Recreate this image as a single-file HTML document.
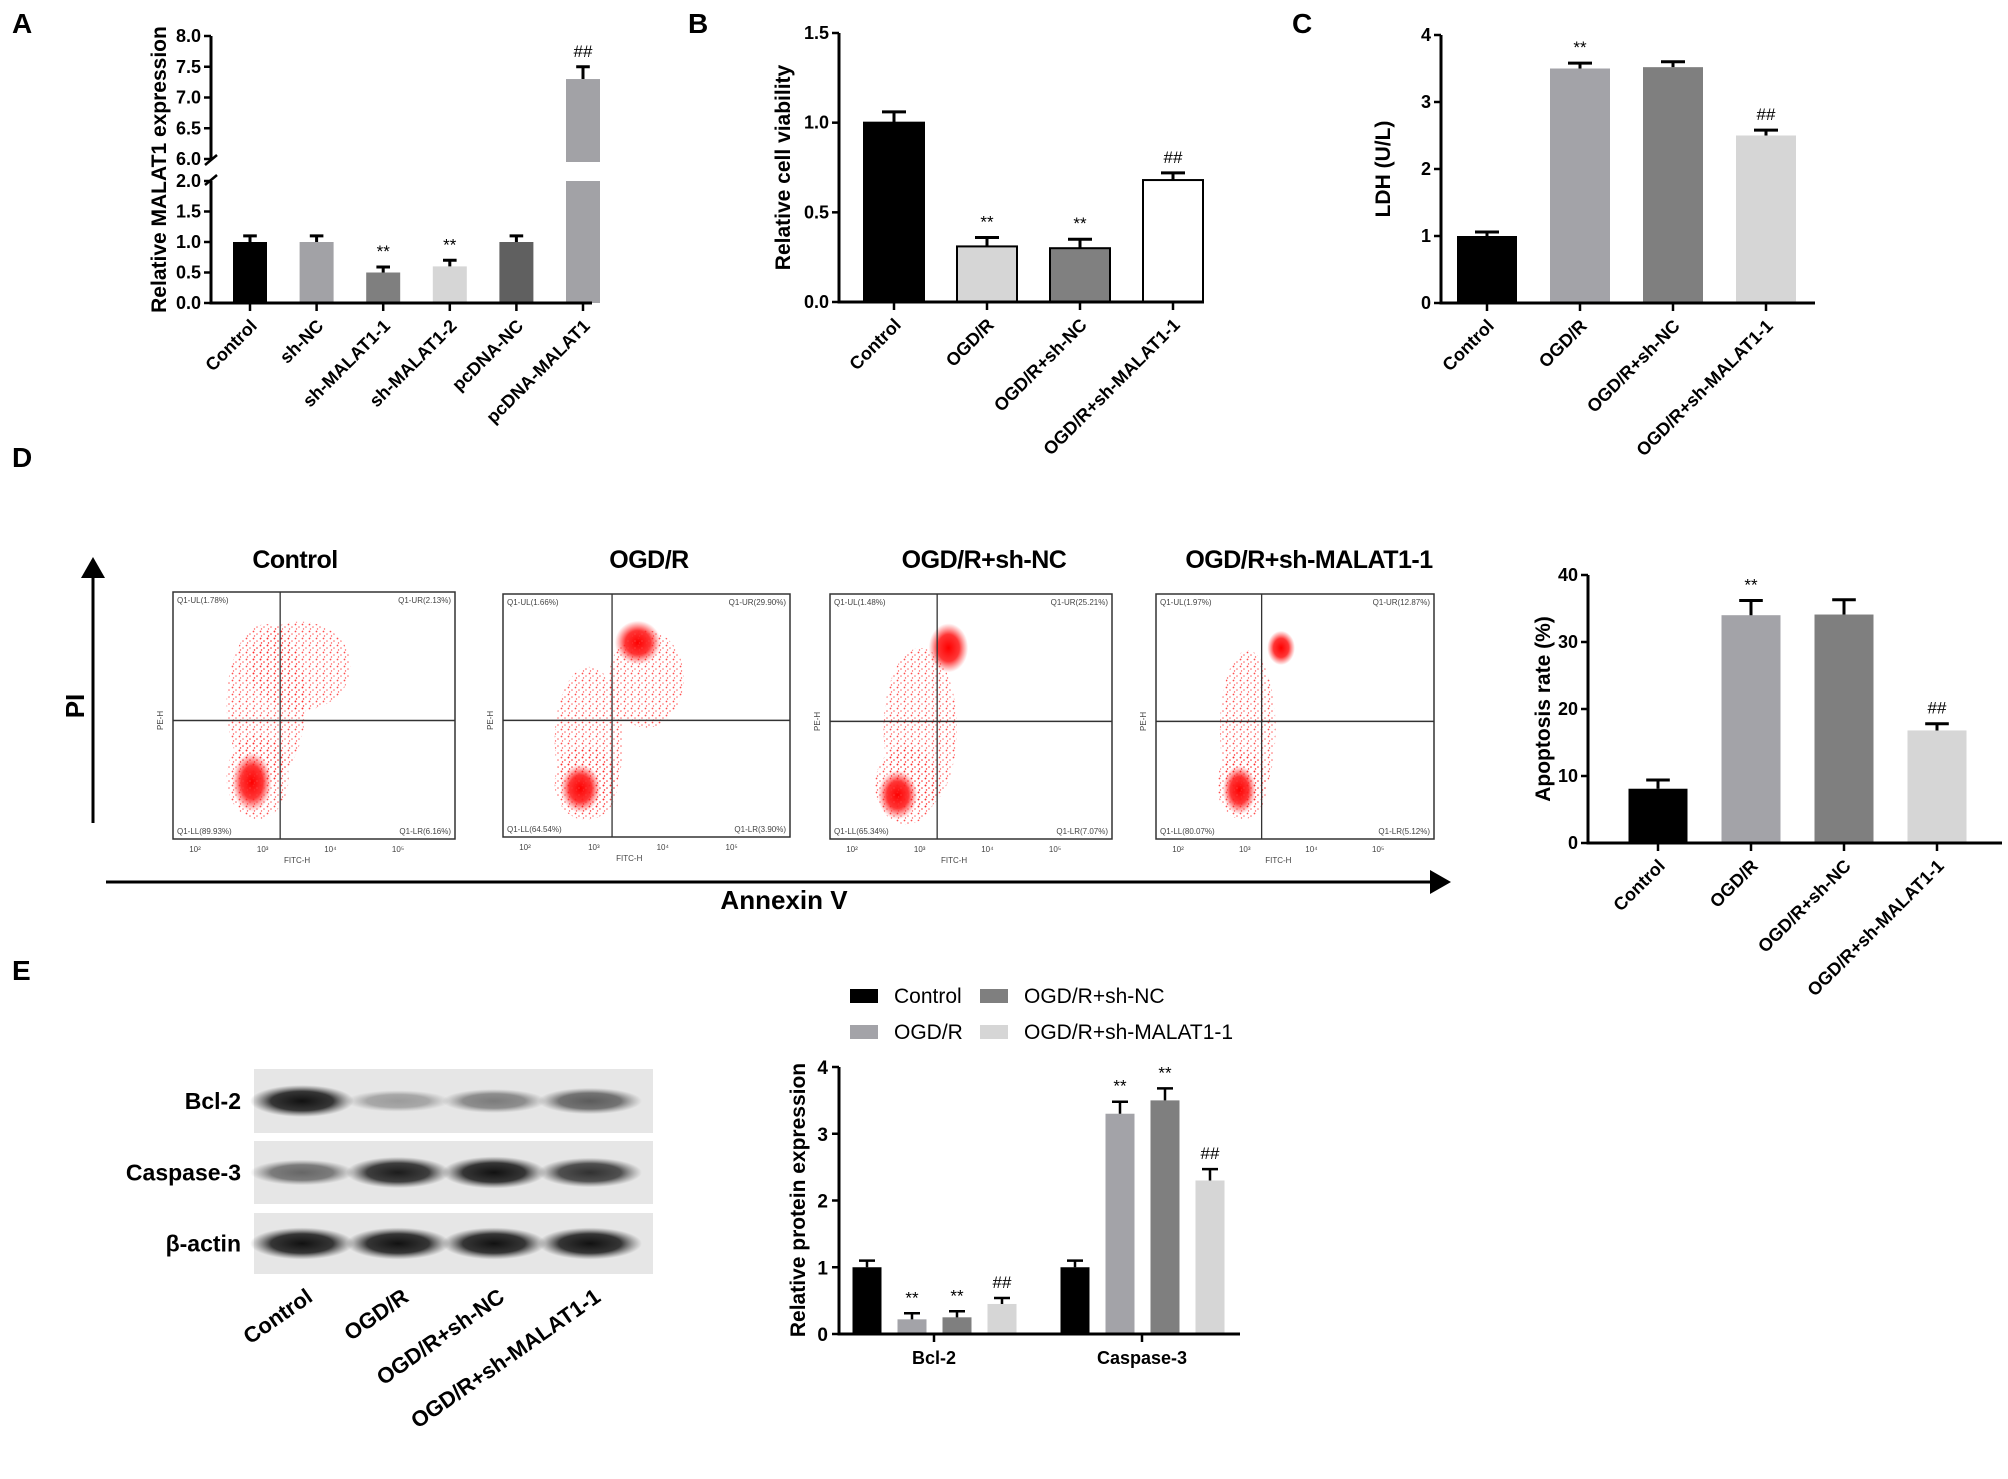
<!DOCTYPE html>
<html><head><meta charset="utf-8">
<style>
html,body{margin:0;padding:0;background:#fff;}
svg{display:block;font-family:"Liberation Sans",sans-serif;}
.pl{font-weight:bold;font-size:28px;}
.tk{font-weight:bold;font-size:18px;}
.ttl{font-weight:bold;font-size:21px;}
.cat{font-weight:bold;font-size:18px;}
.sm{font-size:8px;fill:#444;}
</style></head>
<body>
<svg id="fig" width="2008" height="1479" viewBox="0 0 2008 1479">
  <defs>
    <pattern id="dots" width="7" height="7" patternUnits="userSpaceOnUse">
      <circle cx="1.5" cy="1.5" r="0.9" fill="#f22"/>
      <circle cx="5" cy="4" r="0.8" fill="#f44"/>
      <circle cx="2.5" cy="6" r="0.7" fill="#f33"/>
    </pattern>
    <radialGradient id="core"><stop offset="0" stop-color="#f00" stop-opacity="1"/><stop offset="0.55" stop-color="#f11" stop-opacity="0.85"/><stop offset="1" stop-color="#f33" stop-opacity="0"/></radialGradient>
    <radialGradient id="band"><stop offset="0" stop-color="#111"/><stop offset="0.6" stop-color="#222" stop-opacity="0.9"/><stop offset="1" stop-color="#555" stop-opacity="0"/></radialGradient>
    <marker id="arr" markerWidth="10" markerHeight="10" refX="2" refY="5" orient="auto" markerUnits="strokeWidth"><path d="M0,1 L7,5 L0,9 z" fill="#000"/></marker>
  </defs>
  <text class="pl" x="12" y="33">A</text>
  <text class="pl" x="688" y="33">B</text>
  <text class="pl" x="1292" y="33">C</text>
  <text class="pl" x="12" y="467">D</text>
  <text class="pl" x="12" y="980">E</text>
  <g id="gA"></g>
  <g id="gB"></g>
  <g id="gC"></g>
  <g id="gD"></g>
  <g id="gE"></g>
  <g id="gFlow"></g>
  <g id="gBlot"></g>
  <line x1="93" y1="823" x2="93" y2="572" stroke="#000" stroke-width="3" marker-end="url(#arr)"/>
  <text x="84" y="706" transform="rotate(-90 84 706)" text-anchor="middle" style="font-weight:bold;font-size:26px">PI</text>
  <line x1="106" y1="882" x2="1436" y2="882" stroke="#000" stroke-width="3" marker-end="url(#arr)"/>
  <text x="784" y="909" text-anchor="middle" style="font-weight:bold;font-size:26px">Annexin V</text>
</svg>
<script>
const NS='http://www.w3.org/2000/svg';
// ---------- Data ----------
const aCats=['Control','sh-NC','sh-MALAT1-1','sh-MALAT1-2','pcDNA-NC','pcDNA-MALAT1'];
const aVals=[1.0,1.0,0.5,0.6,1.0,7.3];
const aErrs=[0.1,0.1,0.09,0.1,0.1,0.2];
const aSig=['','','**','**','','##'];
const aTicksLow=[0.0,0.5,1.0,1.5,2.0];
const aTicksHigh=[6.0,6.5,7.0,7.5,8.0];

const bCats=['Control','OGD/R','OGD/R+sh-NC','OGD/R+sh-MALAT1-1'];
const bVals=[1.0,0.31,0.30,0.68];
const bErrs=[0.06,0.05,0.05,0.04];
const bSig=['','**','**','##'];
const bTicks=[0.0,0.5,1.0,1.5];

const cCats=['Control','OGD/R','OGD/R+sh-NC','OGD/R+sh-MALAT1-1'];
const cVals=[1.0,3.5,3.52,2.5];
const cErrs=[0.06,0.08,0.08,0.08];
const cSig=['','**','','##'];
const cTicks=[0,1,2,3,4];

const dCats=['Control','OGD/R','OGD/R+sh-NC','OGD/R+sh-MALAT1-1'];
const dVals=[8.1,34.0,34.1,16.8];
const dErrs=[1.3,2.2,2.2,1.0];
const dSig=['','**','','##'];
const dTicks=[0,10,20,30,40];

const eGroups=['Bcl-2','Caspase-3'];
const eSeries=['Control','OGD/R','OGD/R+sh-NC','OGD/R+sh-MALAT1-1'];
const eBcl=[1.0,0.22,0.25,0.45];
const eBclErr=[0.1,0.09,0.09,0.09];
const eBclSig=['','**','**','##'];
const eCasp=[1.0,3.3,3.5,2.3];
const eCaspErr=[0.1,0.18,0.18,0.17];
const eCaspSig=['','**','**','##'];
const eTicks=[0,1,2,3,4];

function mk(tag,attrs,parent){const e=document.createElementNS(NS,tag);for(const k in attrs)e.setAttribute(k,attrs[k]);parent.appendChild(e);return e;}
function txt(parent,x,y,s,cls,anchor,extra){const t=mk('text',Object.assign({x:x,y:y,'text-anchor':anchor||'middle'},extra||{}),parent);if(cls)t.setAttribute('class',cls);t.textContent=s;return t;}

function barChart(g,cfg){
  const {x0,x1,yScale,cats,vals,errs,sig,colors,strokes,bw,step,first,ticks,tickFmt,title,titleX,y0,topY,tickFs} = cfg;
  cats.forEach((c,i)=>{
    const cx=x0+first+i*step;
    const yv=yScale(vals[i]);
    const r=mk('rect',{x:cx-bw/2,y:yv,width:bw,height:y0-yv,fill:colors[i],stroke:strokes?strokes[i]:'none','stroke-width':2},g);
    
    
    const ye=yScale(vals[i]+errs[i]);
    const eb=mk('path',{d:`M${cx},${yv} V${ye} M${cx-bw*0.2},${ye} H${cx+bw*0.2}`,stroke:'#000','stroke-width':3,fill:'none'},g);
    
    
    if(sig[i].trim()){
      const s=txt(g,cx,ye-10,sig[i].trim(),null,'middle',{style:'font-size:17px'});
      
      
    }
    const tk=mk('line',{x1:cx,y1:y0,x2:cx,y2:y0+8,stroke:'#000','stroke-width':2.5},g);
    
    
    const lb=txt(g,cx+8,y0+24,c,'cat','end',{transform:`rotate(-45 ${cx+8} ${y0+24})`});
    
    
  });
  const ax=mk('line',{x1:x0,y1:y0,x2:x1,y2:y0,stroke:'#000','stroke-width':3},g);
  
  
  if(ticks){
    const ay=mk('line',{x1:x0,y1:y0+1.5,x2:x0,y2:topY,stroke:'#000','stroke-width':3},g);
    
    
    ticks.forEach(t=>{
      const y=yScale(t);
      mk('line',{x1:x0-7,y1:y,x2:x0,y2:y,stroke:'#000','stroke-width':2.5},g);
      const tl=txt(g,x0-10,y+6,tickFmt(t),'tk','end',{style:`font-size:${tickFs||18}px`});
      
      
    });
  }
  const yt=txt(g,titleX,(topY+y0)/2,title,'ttl','middle',{transform:`rotate(-90 ${titleX} ${(topY+y0)/2})`});
  
  
}

// ---------- Panel A (broken axis) ----------
(function(){
  const g=document.getElementById('gA');
  const y0=303;
  const yA=v=> v<=2 ? 303 - v/2*122 : 159 - (v-6)/2*123;
  barChart(g,{x0:211,x1:592,yScale:yA,cats:aCats,vals:aVals,errs:aErrs,sig:aSig,
    colors:['#000','#a2a2a6','#7f7f7f','#d6d6d6','#606060','#a2a2a6'],bw:34,step:66.6,first:39,
    ticks:null,title:'Relative MALAT1 expression',titleX:166,y0:y0,topY:36});
  const cx=211+39+5*66.6;
  mk('rect',{x:cx-20,y:yA(2)-19,width:40,height:19,fill:'#fff'},g);
  mk('line',{x1:211,y1:y0+1.5,x2:211,y2:181,stroke:'#000','stroke-width':3},g);
  mk('line',{x1:211,y1:159,x2:211,y2:36,stroke:'#000','stroke-width':3},g);
  mk('line',{x1:205,y1:185,x2:217,y2:175,stroke:'#000','stroke-width':2.5},g);
  mk('line',{x1:205,y1:165,x2:217,y2:155,stroke:'#000','stroke-width':2.5},g);
  aTicksLow.concat(aTicksHigh).forEach(t=>{
    const y=yA(t);
    mk('line',{x1:204,y1:y,x2:211,y2:y,stroke:'#000','stroke-width':2.5},g);
    const tl=txt(g,201,y+6,t.toFixed(1),'tk','end');
    
    
  });
})();

// ---------- Panel B ----------
(function(){
  const g=document.getElementById('gB');
  const yB=v=>302 - v/1.5*269;
  barChart(g,{x0:839,x1:1204,yScale:yB,cats:bCats,vals:bVals,errs:bErrs,sig:bSig,
    colors:['#000','#d6d6d6','#808080','#fff'],strokes:['#000','#000','#000','#000'],bw:60,step:93,first:55,
    ticks:bTicks,tickFmt:t=>t.toFixed(1),title:'Relative cell viability',titleX:790,y0:302,topY:33});
})();

// ---------- Panel C ----------
(function(){
  const g=document.getElementById('gC');
  const yC=v=>303 - v/4*268;
  barChart(g,{x0:1441,x1:1815,yScale:yC,cats:cCats,vals:cVals,errs:cErrs,sig:cSig,
    colors:['#000','#a3a3a8','#7f7f7f','#d6d6d6'],bw:60,step:93,first:46,
    ticks:cTicks,tickFmt:t=>String(t),title:'LDH (U/L)',titleX:1390,y0:303,topY:35});
})();

// ---------- Panel D bar ----------
(function(){
  const g=document.getElementById('gD');
  const yD=v=>843 - v/40*268;
  barChart(g,{x0:1588,x1:2002,yScale:yD,cats:dCats,vals:dVals,errs:dErrs,sig:dSig,
    colors:['#000','#a3a3a8','#7f7f7f','#d6d6d6'],bw:59,step:93,first:70,
    ticks:dTicks,tickFmt:t=>String(t),title:'Apoptosis rate (%)',titleX:1550,y0:843,topY:575});
})();

// ---------- Panel E grouped bar ----------
(function(){
  const g=document.getElementById('gE');
  const y0=1334;
  const yE=v=>y0 - v/4*267;
  const colors=['#000','#a3a3a8','#7f7f7f','#d6d6d6'];
  const groupVals=[eBcl,eCasp], groupErr=[eBclErr,eCaspErr], groupSig=[eBclSig,eCaspSig];
  const gStart=[867,1075];
  eGroups.forEach((gn,gi)=>{
    eSeries.forEach((s,i)=>{
      const cx=gStart[gi]+i*45;
      const v=groupVals[gi][i];
      const yv=yE(v);
      const r=mk('rect',{x:cx-14.5,y:yv,width:29,height:y0-yv,fill:colors[i]},g);
      
      
      const ye=yE(v+groupErr[gi][i]);
      mk('path',{d:`M${cx},${yv} V${ye} M${cx-8},${ye} H${cx+8}`,stroke:'#000','stroke-width':2.5,fill:'none'},g);
      const sg=groupSig[gi][i];
      if(sg){const st=txt(g,cx,ye-10,sg,null,'middle',{style:'font-size:17px'});
        
        }
    });
    const gc=gStart[gi]+67;
    mk('line',{x1:gc,y1:y0,x2:gc,y2:y0+8,stroke:'#000','stroke-width':2.5},g);
    const gl=txt(g,gc,y0+30,gn,'tk','middle');
    
    
  });
  mk('line',{x1:839,y1:y0,x2:1240,y2:y0,stroke:'#000','stroke-width':3},g);
  mk('line',{x1:839,y1:y0+1.5,x2:839,y2:1067,stroke:'#000','stroke-width':3},g);
  eTicks.forEach(t=>{const y=yE(t);
    mk('line',{x1:832,y1:y,x2:839,y2:y,stroke:'#000','stroke-width':2.5},g);
    const tl=txt(g,828,y+7,String(t),'tk','end',{style:'font-size:19px'});
    
    });
  const yt=txt(g,805,1200,'Relative protein expression','ttl','middle',{transform:'rotate(-90 805 1200)'});
  
  
  const lg=[[850,989,'Control',0],[980,989,'OGD/R+sh-NC',2],[850,1025,'OGD/R',1],[980,1025,'OGD/R+sh-MALAT1-1',3]];
  lg.forEach(l=>{
    const sw=mk('rect',{x:l[0],y:l[1],width:28,height:14,fill:colors[l[3]]},g);
    
    
    const lt=txt(g,l[0]+44,l[1]+14,l[2],null,'start',{style:'font-size:21px'});
    
    
  });
})();

// ---------- Flow cytometry plots ----------
(function(){
  const g=document.getElementById('gFlow');
  const titles=['Control','OGD/R','OGD/R+sh-NC','OGD/R+sh-MALAT1-1'];
  const titleX=[295,649,984,1309];
  const boxes=[[173,592,282,247],[503,594,287,243],[830,594,282,245],[1156,594,278,245]];
  const pct=[['1.78','2.13','89.93','6.16'],['1.66','29.90','64.54','3.90'],['1.48','25.21','65.34','7.07'],['1.97','12.87','80.07','5.12']];
  const blobs=[
    [[0.33,0.45,0.14,0.32,'d'],[0.45,0.3,0.18,0.18,'d'],[0.28,0.77,0.07,0.12,'c'],[0.3,0.75,0.11,0.17,'d']],
    [[0.3,0.6,0.12,0.3,'d'],[0.47,0.2,0.08,0.09,'c'],[0.5,0.35,0.13,0.2,'d'],[0.27,0.8,0.07,0.1,'c'],[0.29,0.78,0.11,0.15,'d']],
    [[0.32,0.55,0.13,0.33,'d'],[0.42,0.22,0.07,0.1,'c'],[0.24,0.82,0.07,0.1,'c'],[0.27,0.78,0.11,0.16,'d']],
    [[0.33,0.55,0.1,0.32,'d'],[0.45,0.22,0.05,0.07,'c'],[0.3,0.8,0.06,0.1,'c'],[0.31,0.78,0.09,0.14,'d']]
  ];
  titles.forEach((t,i)=>{
    const [x,y,w,h]=boxes[i];
    const tt=txt(g,titleX[i],568,t,null,'middle',{style:'font-weight:bold;font-size:25px;letter-spacing:-0.5px'});
    
    
    const cp=mk('clipPath',{id:'cl'+i},g);
    mk('rect',{x:x,y:y,width:w,height:h},cp);
    const bg=mk('g',{'clip-path':`url(#cl${i})`},g);
    blobs[i].forEach(b=>{
      const e=mk('ellipse',{cx:x+b[0]*w,cy:y+b[1]*h,rx:b[2]*w,ry:b[3]*h,fill:b[4]==='c'?'url(#core)':'url(#dots)',opacity:b[4]==='c'?1:0.8},bg);
      
      
    });
    const fr=mk('rect',{x:x,y:y,width:w,height:h,fill:'none',stroke:'#333','stroke-width':1.5},g);
    
    
    const vx=x+0.38*w, hy=y+0.52*h;
    mk('line',{x1:vx,y1:y,x2:vx,y2:y+h,stroke:'#333','stroke-width':1.3},g);
    mk('line',{x1:x,y1:hy,x2:x+w,y2:hy,stroke:'#333','stroke-width':1.5},g);
    txt(g,x+4,y+11,`Q1-UL(${pct[i][0]}%)`,'sm','start');
    txt(g,x+w-4,y+11,`Q1-UR(${pct[i][1]}%)`,'sm','end');
    txt(g,x+4,y+h-5,`Q1-LL(${pct[i][2]}%)`,'sm','start');
    txt(g,x+w-4,y+h-5,`Q1-LR(${pct[i][3]}%)`,'sm','end');
    ['10²','10³','10⁴','10⁵'].forEach((s,k)=>txt(g,x+22+k*0.24*w,y+h+13,s,'sm','middle'));
    txt(g,x+0.44*w,y+h+24,'FITC-H','sm','middle');
    txt(g,x-10,y+0.52*h,'PE-H','sm','middle',{transform:`rotate(-90 ${x-10} ${y+0.52*h})`});
  });
})();

// ---------- Western blot ----------
(function(){
  const g=document.getElementById('gBlot');
  const rows=[['Bcl-2',1069,64,[1.0,0.35,0.5,0.65]],['Caspase-3',1141,63,[0.6,0.95,1.0,0.85]],['β-actin',1213,61,[1,1,1,1]]];
  const lanes=[302,398,494,590];
  rows.forEach(r=>{
    const bx=mk('rect',{x:254,y:r[1],width:399,height:r[2],fill:'#e6e6e6'},g);
    
    
    lanes.forEach((lx,k)=>{
      const b=mk('ellipse',{cx:lx,cy:r[1]+r[2]/2,rx:52,ry:8+8*r[3][k],fill:'url(#band)',opacity:r[3][k]},g);
      
      
    });
    const lb=txt(g,241,r[1]+r[2]/2+8,r[0],null,'end',{style:'font-weight:bold;font-size:23px'});
    
    
  });
  ['Control','OGD/R','OGD/R+sh-NC','OGD/R+sh-MALAT1-1'].forEach((s,k)=>{
    const x=lanes[k]+12, y=1300;
    const t=txt(g,x,y,s,null,'end',{style:'font-weight:bold;font-size:22px',transform:`rotate(-35 ${x} ${y})`});
    
    
  });
})();
</script>
</body></html>
